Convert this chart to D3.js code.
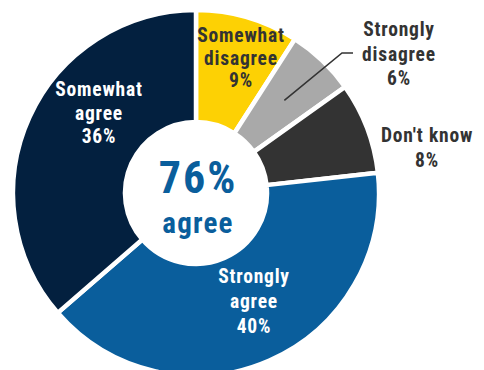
<!DOCTYPE html>
<html>
<head>
<meta charset="utf-8">
<script src="https://cdn.jsdelivr.net/npm/d3@7"></script>
<style>
  html, body { margin: 0; padding: 0; background: #fff; }
  svg { display: block; }
  text { font-family: "Roboto Condensed", "DejaVu Sans Condensed", sans-serif; font-weight: bold; }
</style>
</head>
<body>
<svg id="chart" width="484" height="370"></svg>
<script>
// Survey responses, clockwise from 12 o'clock
const categories = ["Somewhat disagree", "Strongly disagree", "Don't know", "Strongly agree", "Somewhat agree"];
const values = [9, 6, 8, 40, 36];
const labelLines = [
  ["Somewhat", "disagree", "9%"],
  ["Strongly", "disagree", "6%"],
  ["Don't know", "8%"],
  ["Strongly", "agree", "40%"],
  ["Somewhat", "agree", "36%"]
];
const centerValue = "76%";
const centerLabel = "agree";

const colors = {
  "Somewhat disagree": "#fdd104",
  "Strongly disagree": "#a9a9a9",
  "Don't know": "#333333",
  "Strongly agree": "#0a5e9c",
  "Somewhat agree": "#03203f"
};
const textColors = {
  "Somewhat disagree": "#333333",
  "Strongly disagree": "#333333",
  "Don't know": "#333333",
  "Strongly agree": "#ffffff",
  "Somewhat agree": "#ffffff"
};
// label block: centre x, first baseline, line height
const labelPlace = {
  "Somewhat disagree": { x: 241, y: 42, lh: 22.5 },
  "Strongly disagree": { x: 399, y: 36, lh: 24.5 },
  "Don't know": { x: 427, y: 142, lh: 25 },
  "Strongly agree": { x: 254, y: 283, lh: 25 },
  "Somewhat agree": { x: 99, y: 96, lh: 23.5 }
};

const cx = 196, cy = 193;
const outerR = 183, innerR = 71;

const svg = d3.select("#chart");
const g = svg.append("g").attr("transform", `translate(${cx},${cy})`);

const data = categories.map((c, i) => ({ category: c, value: values[i], lines: labelLines[i] }));

const pie = d3.pie().value(d => d.value).sort(null);
const arc = d3.arc().innerRadius(innerR).outerRadius(outerR);
const arcs = pie(data);

g.selectAll("path.slice")
  .data(arcs)
  .join("path")
  .attr("class", "slice")
  .attr("d", arc)
  .attr("fill", d => colors[d.data.category])
  .attr("stroke", "#fff")
  .attr("stroke-width", 4.5)
  .attr("stroke-linejoin", "miter");

// leader line for the narrow light-gray slice
const sd = arcs[1];
const p0 = d3.pointRadial((sd.startAngle + sd.endAngle) / 2, 128);
const p1 = [342 - cx, 53 - cy];
const p2 = [353 - cx, 53 - cy];
g.append("path")
  .attr("d", d3.line()([p0, p1, p2]))
  .attr("fill", "none")
  .attr("stroke", "#333")
  .attr("stroke-width", 1.6);

// slice labels
const labels = svg.selectAll("text.lbl")
  .data(data)
  .join("text")
  .attr("class", "lbl")
  .attr("text-anchor", "middle")
  .attr("font-size", 19.5)
  .attr("letter-spacing", 0.8)
  .attr("fill", d => textColors[d.category]);

labels.each(function(d) {
  const p = labelPlace[d.category];
  d3.select(this).selectAll("tspan")
    .data(d.lines)
    .join("tspan")
    .attr("x", p.x)
    .attr("y", (t, i) => p.y + i * p.lh)
    .text(t => t);
});

// centre total
g.append("text")
  .attr("text-anchor", "middle")
  .attr("x", 2)
  .attr("y", 0)
  .attr("font-size", 44)
  .attr("letter-spacing", 2)
  .attr("fill", "#0a5e9c")
  .text(centerValue);
g.append("text")
  .attr("text-anchor", "middle")
  .attr("x", 2)
  .attr("y", 40)
  .attr("font-size", 29)
  .attr("letter-spacing", 1.2)
  .attr("fill", "#0a5e9c")
  .text(centerLabel);
</script>
</body>
</html>
